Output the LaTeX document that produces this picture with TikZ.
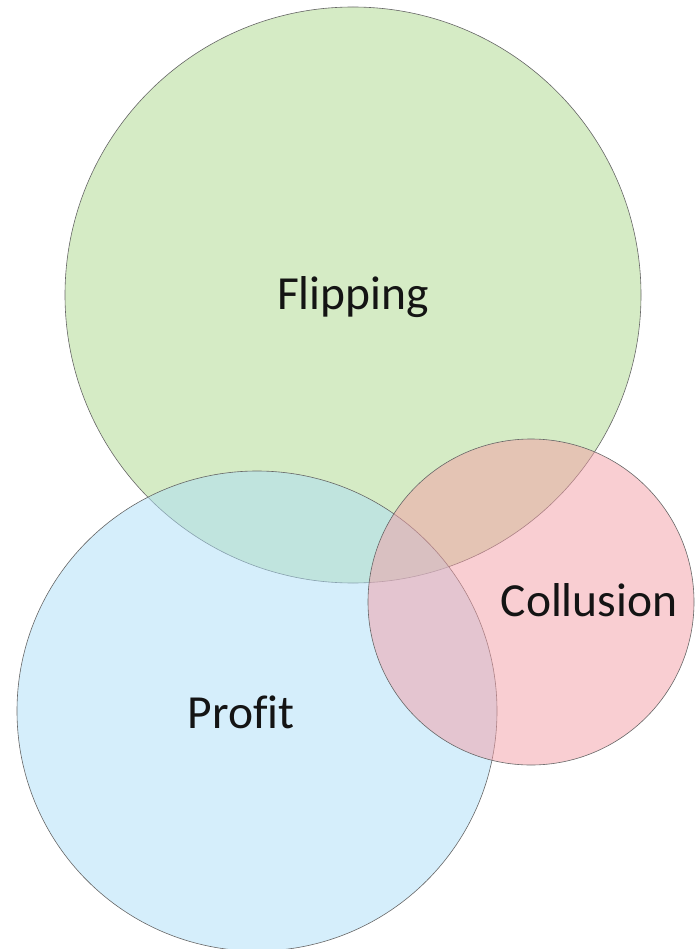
\documentclass[tikz,border=0pt]{standalone}
\usepackage{fontspec}
\setmainfont[Ligatures=NoCommon]{Carlito}
\definecolor{vgreen}{RGB}{171,215,139}
\definecolor{vblue}{RGB}{171,221,247}
\definecolor{vpink}{RGB}{243,157,165}
\definecolor{vtext}{RGB}{20,20,20}
\begin{document}
\begin{tikzpicture}[x=1pt,y=-1pt,
  setc/.style={circle, inner sep=0pt, outer sep=0pt, draw=black!60, line width=0.6pt, fill opacity=0.5},
  lbl/.style={text=vtext, font=\fontsize{47.5}{56}\selectfont, inner sep=0pt}]
\useasboundingbox (0,0) rectangle (695,949);
\node[setc, fill=vgreen, minimum size=576pt] (flip) at (353,295) {};
\node[setc, fill=vblue, minimum size=480pt] (prof) at (257,711) {};
\node[setc, fill=vpink, minimum size=326pt] (coll) at (531,602) {};
\node[lbl] (tflip) at (353,297) {Flipping};
\node[lbl] (tprof) at (241,712) {Profit};
\node[lbl] (tcoll) at (589,600) {Collusion};
\end{tikzpicture}
\end{document}
